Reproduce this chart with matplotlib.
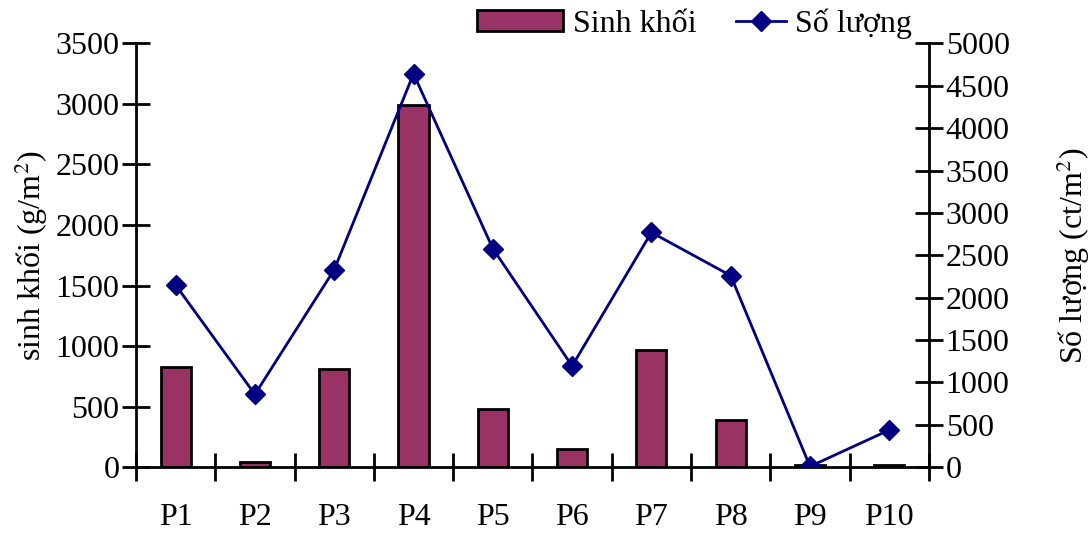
import matplotlib
matplotlib.use("Agg")
import matplotlib.pyplot as plt
from matplotlib.lines import Line2D
from matplotlib.patches import Patch
import numpy as np

plt.rcParams["font.family"] = ["Liberation Serif", "DejaVu Serif"]
plt.rcParams["mathtext.fontset"] = "stix"

sites = ["P1", "P2", "P3", "P4", "P5", "P6", "P7", "P8", "P9", "P10"]
biomass = [830, 40, 810, 2990, 480, 150, 965, 390, 20, 20]          # g/m2, left axis
density = [2150, 860, 2330, 4640, 2580, 1195, 2770, 2260, 10, 440]  # ct/m2, right axis

BAR = "#993366"
LINE = "#000080"
FS = 23

fig = plt.figure(figsize=(10.92, 5.36), dpi=100)
ax = fig.add_axes([0.1245, 0.1282, 0.7262, 0.791])
x = np.arange(len(sites))
ax.bar(x, biomass, width=0.38, color=BAR, edgecolor="black", linewidth=2, zorder=2)
ax.set_xlim(-0.5, len(sites) - 0.5)
ax.set_ylim(0, 3500)
ax.set_yticks(range(0, 3501, 500))
ax.set_xticks(x)
ax.set_xticklabels(sites)
ax.set_xticks(np.arange(-0.5, len(sites)), minor=True)
ax.tick_params(axis="x", which="major", length=0, pad=26, labelsize=FS)
ax.tick_params(axis="x", which="minor", direction="inout", length=20, width=2)
ax.tick_params(axis="y", direction="inout", length=20, width=2, labelsize=FS, pad=2)
ax.set_ylabel("sinh khối (g/m$^2$)", fontsize=FS, labelpad=4)
for s in ["top", "right"]:
    ax.spines[s].set_visible(False)
for s in ["left", "bottom"]:
    ax.spines[s].set_linewidth(2)

ax2 = ax.twinx()
ax2.plot(x, density, color=LINE, lw=2, marker="D", markersize=10, zorder=3)
ax2.set_ylim(0, 5000)
ax2.set_yticks(range(0, 5001, 500))
ax2.tick_params(axis="y", direction="inout", length=20, width=2, labelsize=FS, pad=2)
ax2.set_ylabel("Số lượng (ct/m$^2$)", fontsize=FS, labelpad=32)
for s in ["top", "left", "bottom"]:
    ax2.spines[s].set_visible(False)
ax2.spines["right"].set_linewidth(2)

# two separate legend entries so each handle can have its own length
common = dict(frameon=False, fontsize=FS, borderpad=0, borderaxespad=0,
              handletextpad=0.3, loc="center left")
fig.legend([Patch(facecolor=BAR, edgecolor="black", linewidth=2)], ["Sinh khối"],
           bbox_to_anchor=(0.4368, 0.955), handlelength=2.7, handleheight=0.6, **common)
fig.legend([Line2D([], [], color=LINE, lw=2, marker="D", markersize=10)], ["Số lượng"],
           bbox_to_anchor=(0.674, 0.955), handlelength=1.55, **common)

fig.savefig("out.png", dpi=100)
